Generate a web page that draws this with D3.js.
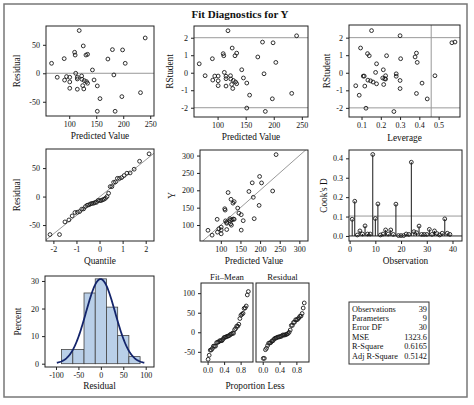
<!DOCTYPE html>
<html><head><meta charset="utf-8">
<script src="https://cdn.jsdelivr.net/npm/d3@7"></script>
<style>
body{margin:0;background:#fff;}
svg text{font-family:"Liberation Serif","Times New Roman",serif;fill:#111;}
</style></head>
<body><svg id="c" width="474" height="405"></svg>
<script>
// ---------- data ----------
const predicted = [67.3,77.8,90.7,91.4,95,101,101,101,110,111,112,115,115,115,118.5,123,123.5,125,126,127,128,131,132,134,134,143,146,152,152,157,171.6,180,182.7,185,197.5,198.8,203.7,232,240.7];
const residual = [17.5,-7,25.7,-12,-5.8,-7,-15.2,-26.3,36.9,32,0,-7,-10,-28,75,-4.7,-10.5,-21.6,48,-27.5,-12.9,32,-14.6,33.3,-17.5,5.8,-11.7,-22.2,-66.7,-44.5,25,41.5,-2.9,-66.7,-41,41,17.5,-34,62];
const rstudent = [0.51,-0.17,0.80,-0.42,-0.19,-0.19,-0.46,-0.74,1.09,0.97,0.02,-0.2,-0.34,-0.76,2.4,-0.17,-0.36,-0.67,1.41,-0.9,-0.44,0.97,-0.53,1.12,-0.63,0.17,-0.3,-0.59,-2.02,-1.28,0.9,1.75,-0.06,-2.21,-1.49,1.71,0.59,-1.18,2.11];
const leverage = [0.178,0.481,0.303,0.133,0.109,0.114,0.147,0.07,0.131,0.140,0.173,0.28,0.22,0.117,0.152,0.225,0.225,0.215,0.095,0.30,0.30,0.23,0.16,0.385,0.178,0.213,0.21,0.414,0.123,0.088,0.378,0.585,0.28,0.268,0.441,0.569,0.389,0.385,0.30];
const cooksD = [0.086,0.179,0.005,0.026,0.01,0.052,0.01,0.01,0.42,0.09,0.165,0.005,0.01,0.031,0.01,0.031,0.008,0.164,0.002,0.002,0.002,0.01,0.008,0.38,0.022,0.017,0.051,0.008,0.008,0.008,0.034,0.008,0.026,0.012,0.005,0.014,0.088,0.014,0.008];
const statLabels = ["Observations","Parameters","Error DF","MSE","R-Square","Adj R-Square"];
const statValues = ["39","9","30","1323.6","0.6165","0.5142"];
const nParams = 9;
const histThresholds = [-62.5,-37.5,-12.5,12.5,37.5,62.5];
const histDomain = [-87.5,87.5];

// ---------- helpers ----------
const svg = d3.select("#c");
svg.append("rect").attr("width",474).attr("height",405).attr("fill","#fff");
const n = predicted.length;
const obs = d3.range(n).map(i=>({pred:predicted[i],res:residual[i],y:predicted[i]+residual[i],rs:rstudent[i],lev:leverage[i],cd:cooksD[i],id:i+1}));

function qnorm(p){
  const a=[-39.69683028665376,220.9460984245205,-275.9285104469687,138.3577518672690,-30.66479806614716,2.506628277459239];
  const b=[-54.47609879822406,161.5858368580409,-155.6989798598866,66.80131188771972,-13.28068155288572];
  const c=[-0.007784894002430293,-0.3223964580411365,-2.400758277161838,-2.549732539343734,4.374664141464968,2.938163982698783];
  const d=[0.007784695709041462,0.3224671290700398,2.445134137142996,3.754408661907416];
  const pl=0.02425;
  if(p<pl){const q=Math.sqrt(-2*Math.log(p));return (((((c[0]*q+c[1])*q+c[2])*q+c[3])*q+c[4])*q+c[5])/((((d[0]*q+d[1])*q+d[2])*q+d[3])*q+1);}
  if(p>1-pl){const q=Math.sqrt(-2*Math.log(1-p));return -(((((c[0]*q+c[1])*q+c[2])*q+c[3])*q+c[4])*q+c[5])/((((d[0]*q+d[1])*q+d[2])*q+d[3])*q+1);}
  const q=p-0.5,r=q*q;
  return (((((a[0]*r+a[1])*r+a[2])*r+a[3])*r+a[4])*r+a[5])*q/(((((b[0]*r+b[1])*r+b[2])*r+b[3])*r+b[4])*r+1);
}

let clipId=0;
function panel(cfg){
  const g = svg.append("g");
  const x = d3.scaleLinear().domain(cfg.xd).range([cfg.x,cfg.x+cfg.w]);
  const y = d3.scaleLinear().domain(cfg.yd).range([cfg.y+cfg.h,cfg.y]);
  const id = "clip"+(clipId++);
  svg.append("clipPath").attr("id",id).append("rect")
    .attr("x",cfg.x).attr("y",cfg.y).attr("width",cfg.w).attr("height",cfg.h);
  g.append("rect").attr("x",cfg.x).attr("y",cfg.y).attr("width",cfg.w).attr("height",cfg.h).attr("fill","#fff");
  const inner = g.append("g").attr("clip-path",`url(#${id})`);
  const fmtX = cfg.xf || (d=>String(d));
  const fmtY = cfg.yf || (d=>String(d));
  if(cfg.xt){
    const ax = g.append("g").attr("transform",`translate(0,${cfg.y+cfg.h})`)
      .call(d3.axisBottom(x).tickValues(cfg.xt).tickSize(3).tickPadding(2).tickFormat(fmtX));
    ax.select(".domain").remove();
    ax.selectAll("line").attr("stroke","#222");
    ax.selectAll("text").style("font-size","8px").style("font-family","Liberation Serif").attr("fill","#111");
  }
  if(cfg.yt){
    const ay = g.append("g").attr("transform",`translate(${cfg.x},0)`)
      .call(d3.axisLeft(y).tickValues(cfg.yt).tickSize(3).tickPadding(3).tickFormat(fmtY));
    ay.select(".domain").remove();
    ay.selectAll("line").attr("stroke","#222");
    ay.selectAll("text").style("font-size","8px").style("font-family","Liberation Serif").attr("fill","#111");
  }
  if(cfg.xl){
    g.append("text").attr("x",cfg.xlx!==undefined?cfg.xlx:cfg.x+cfg.w/2).attr("y",cfg.y+cfg.h+(cfg.xlo||23))
      .attr("text-anchor","middle").style("font-size","9.3px").text(cfg.xl);
  }
  if(cfg.yl){
    g.append("text").attr("transform",`translate(${cfg.ylx},${cfg.y+cfg.h/2}) rotate(-90)`)
      .attr("text-anchor","middle").style("font-size","9.3px").text(cfg.yl);
  }
  const box = ()=>g.append("rect").attr("x",cfg.x).attr("y",cfg.y).attr("width",cfg.w).attr("height",cfg.h)
      .attr("fill","none").attr("stroke","#222").attr("stroke-width",1);
  return {g,inner,x,y,box};
}
function hline(p,v,color,w){p.inner.append("line").attr("x1",p.x.range()[0]).attr("x2",p.x.range()[1]).attr("y1",p.y(v)).attr("y2",p.y(v)).attr("stroke",color||"#999").attr("stroke-width",w||1);}
function vline(p,v,color){p.inner.append("line").attr("y1",p.y.range()[0]).attr("y2",p.y.range()[1]).attr("x1",p.x(v)).attr("x2",p.x(v)).attr("stroke",color||"#999").attr("stroke-width",1);}
function dots(p,data,fx,fy){
  p.inner.selectAll("circle.pt").data(data).join("circle").attr("class","pt")
    .attr("cx",d=>p.x(fx(d))).attr("cy",d=>p.y(fy(d))).attr("r",1.9)
    .attr("fill","none").attr("stroke","#1a1a1a").attr("stroke-width",0.9);
}

// outer frame + title
svg.append("rect").attr("x",4).attr("y",4).attr("width",463).attr("height",393)
  .attr("fill","none").attr("stroke","#777").attr("stroke-width",1.5);
svg.append("text").attr("x",240).attr("y",18).attr("text-anchor","middle")
  .style("font-size","11px").style("font-weight","bold").text("Fit Diagnostics for Y");

// 1. Residual vs predicted
{
  const p = panel({x:46,y:26,w:108,h:90,xd:[57,257],yd:[-75,83],xt:[100,150,200,250],yt:[-50,0,50],xl:"Predicted Value",yl:"Residual",ylx:20});
  hline(p,0); dots(p,obs,d=>d.pred,d=>d.res); p.box();
}
// 2. RStudent vs predicted
{
  const p = panel({x:194,y:26,w:114,h:91,xd:[58,261],yd:[-2.53,2.67],xt:[100,150,200,250],yt:[-2,-1,0,1,2],xl:"Predicted Value",yl:"RStudent",ylx:173});
  hline(p,2); hline(p,-2); dots(p,obs,d=>d.pred,d=>d.rs); p.box();
}
// 3. RStudent vs leverage
{
  const p = panel({x:349,y:25,w:111,h:92,xd:[0.035,0.611],yd:[-2.52,2.72],xt:[0.1,0.2,0.3,0.4,0.5],yt:[-2,-1,0,1,2],xf:d3.format(".1f"),xl:"Leverage",yl:"RStudent",ylx:330,xlo:24});
  hline(p,2); hline(p,-2); vline(p,2*nParams/n); dots(p,obs,d=>d.lev,d=>d.rs); p.box();
}
// 4. Q-Q plot of residuals
{
  const p = panel({x:46,y:149,w:108,h:92,xd:[-2.32,2.36],yd:[-78,83.5],xt:[-2,-1,0,1,2],yt:[-50,0,50],xl:"Quantile",yl:"Residual",ylx:20});
  const sorted = residual.slice().sort((a,b)=>a-b);
  const qq = sorted.map((r,i)=>({q:qnorm((i+1-0.375)/(n+0.25)),r}));
  const m = d3.mean(residual), s = d3.deviation(residual);
  p.inner.append("line").attr("x1",p.x(-3)).attr("y1",p.y(m-3*s)).attr("x2",p.x(3)).attr("y2",p.y(m+3*s)).attr("stroke","#999");
  dots(p,qq,d=>d.q,d=>d.r); p.box();
}
// 5. Y vs predicted
{
  const p = panel({x:200,y:150,w:108,h:91,xd:[47,322],yd:[54,316],xt:[100,150,200,250,300],yt:[100,150,200,250,300],xl:"Predicted Value",yl:"Y",ylx:175});
  p.inner.append("line").attr("x1",p.x(0)).attr("y1",p.y(0)).attr("x2",p.x(400)).attr("y2",p.y(400)).attr("stroke","#999");
  dots(p,obs,d=>d.pred,d=>d.y); p.box();
}
// 6. Cook's D
{
  const p = panel({x:349,y:150,w:113,h:91,xd:[-0.24,43.7],yd:[-0.026,0.443],xt:[0,10,20,30,40],yt:[0,0.1,0.2,0.3,0.4],yf:d3.format(".1f"),xl:"Observation",yl:"Cook's D",ylx:327});
  hline(p,4/n); hline(p,0,"#222",1);
  p.inner.selectAll("line.nd").data(obs).join("line").attr("class","nd")
    .attr("x1",d=>p.x(d.id)).attr("x2",d=>p.x(d.id)).attr("y1",p.y(0)).attr("y2",d=>p.y(d.cd))
    .attr("stroke","#1a1a1a").attr("stroke-width",1);
  dots(p,obs,d=>d.id,d=>d.cd); p.box();
}
// 7. Histogram of residuals
{
  const p = panel({x:45,y:276,w:109,h:91,xd:[-124.5,118.5],yd:[-1.2,31.8],xt:[-100,-50,0,50,100],yt:[0,10,20,30],xl:"Residual",yl:"Percent",ylx:21,xlo:22});
  const bins = d3.bin().domain(histDomain).thresholds(histThresholds)(residual);
  p.inner.selectAll("rect.bar").data(bins).join("rect").attr("class","bar")
    .attr("x",d=>p.x(d.x0)).attr("width",d=>p.x(d.x1)-p.x(d.x0))
    .attr("y",d=>p.y(d.length/n*100)).attr("height",d=>p.y(0)-p.y(d.length/n*100))
    .attr("fill","#b9cfe8").attr("stroke","#444").attr("stroke-width",0.8);
  const m = d3.mean(residual), s = d3.deviation(residual), bw = bins[0].x1-bins[0].x0;
  const curve = d3.range(-3,3.0001,0.05).map(z=>{const v=m+z*s;return [v,100*bw*Math.exp(-z*z/2)/(s*Math.sqrt(2*Math.PI))];});
  p.inner.append("path").datum(curve).attr("d",d3.line().x(d=>p.x(d[0])).y(d=>p.y(d[1])))
    .attr("fill","none").attr("stroke","#13246b").attr("stroke-width",1.8);
  p.box();
}
// 8. Residual-Fit spread plot
{
  const meanY = d3.mean(obs,d=>d.y);
  const fm = predicted.map(v=>v-meanY).sort((a,b)=>a-b).map((v,i)=>({p:(i+0.5)/n,v}));
  const rs = residual.slice().sort((a,b)=>a-b).map((v,i)=>({p:(i+0.5)/n,v}));
  const common = {y:283,h:79,xd:[-0.16,1.1],yd:[-76,126],xt:[0,0.4,0.8],xf:d3.format(".1f")};
  const p1 = panel(Object.assign({x:201,w:52,yt:[-50,0,50,100]},common));
  dots(p1,fm,d=>d.p,d=>d.v); p1.box();
  const p2 = panel(Object.assign({x:256,w:53},common));
  dots(p2,rs,d=>d.p,d=>d.v); p2.box();
  svg.append("text").attr("x",227).attr("y",280).attr("text-anchor","middle").style("font-size","8.7px").text("Fit\u2013Mean");
  svg.append("text").attr("x",282.5).attr("y",280).attr("text-anchor","middle").style("font-size","8.7px").text("Residual");
  svg.append("text").attr("x",255).attr("y",389).attr("text-anchor","middle").style("font-size","9.3px").text("Proportion Less");
}
// 9. Statistics table
{
  const g = svg.append("g");
  g.append("rect").attr("x",349).attr("y",302).attr("width",80).attr("height",62).attr("fill","#fff").attr("stroke","#333").attr("stroke-width",1);
  statLabels.forEach((l,i)=>{
    g.append("text").attr("x",352).attr("y",311.5+i*9.4).style("font-size","8.3px").text(l);
    g.append("text").attr("x",427).attr("y",311.5+i*9.4).attr("text-anchor","end").style("font-size","8.3px").text(statValues[i]);
  });
}
</script></body></html>
